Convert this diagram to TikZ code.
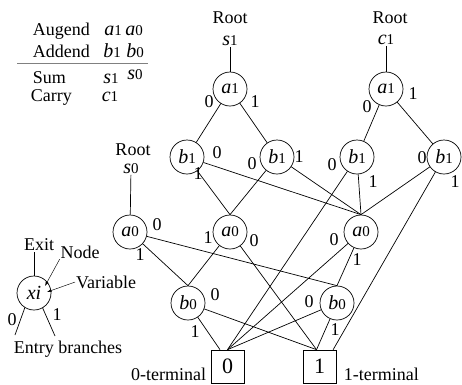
\documentclass[tikz,border=0pt]{standalone}
\usepackage{fontspec}
\setmainfont{Liberation Serif}
\usetikzlibrary{positioning,arrows.meta}

% variable with its bit index
\newcommand{\vr}[2]{{\fontsize{20}{20}\selectfont\itshape #1}{\fontsize{15}{15}\selectfont #2}}

\tikzset{
  bdd/.style={circle, draw, minimum size=34pt, inner sep=0pt},
  term/.style={draw, minimum size=33pt, inner sep=0pt, font=\fontsize{22}{22}\selectfont},
  txt/.style={inner sep=0.5pt},
  bit/.style={inner sep=0pt},
  ptr/.style={-{Latex[length=4.5pt,width=3pt]}, line width=0.45pt}
}

\begin{document}
\begin{tikzpicture}[x=1pt, y=-1pt, line width=0.7pt, font=\fontsize{18}{20}\selectfont]
    \useasboundingbox (0,0) rectangle (462,384);

    % Adder table
    \node[txt, anchor=base west] (augend) at (32,35) {Augend};
    \node[txt, anchor=base] (ta1) at (113,35) {\vr{a}{1}};
    \node[txt, anchor=base] (ta0) at (134,35) {\vr{a}{0}};
    \node[txt, anchor=base west] (addend) at (32,57) {Addend};
    \node[txt, anchor=base] (tb1) at (112,57) {\vr{b}{1}};
    \node[txt, anchor=base] (tb0) at (135,57) {\vr{b}{0}};
    \coordinate (rulel) at (17,63);
    \coordinate (ruler) at (148,63);
    \draw[gray, line width=0.6pt] (rulel) -- (ruler);
    \node[txt, anchor=base west] (sum) at (32,83) {Sum};
    \node[txt, anchor=base] (ts1) at (111,83) {\vr{s}{1}};
    \node[txt, anchor=base] (ts0) at (135,79) {\vr{s}{0}};
    \node[txt, anchor=base west] (carry) at (30,101) {Carry};
    \node[txt, anchor=base] (tc1) at (110,101) {\vr{c}{1}};

    % Roots
    \node[txt] (roots1) at (230,18) {Root};
    \node[txt] (s1) at (230,41) {\vr{s}{1}};
    \node[txt] (rootc1) at (390,18) {Root};
    \node[txt] (c1) at (386,40) {\vr{c}{1}};
    \node[txt] (roots0) at (133,150) {Root};
    \node[txt] (s0) at (131,169) {\vr{s}{0}};

    % Decision nodes
    \node[bdd] (a1l) at (230,89) {\vr{a}{1}};
    \node[bdd] (a1r) at (386,89) {\vr{a}{1}};
    \node[bdd] (b1a) at (187,157) {\vr{b}{1}};
    \node[bdd] (b1b) at (277,157) {\vr{b}{1}};
    \node[bdd] (b1c) at (357,157) {\vr{b}{1}};
    \node[bdd] (b1d) at (444,157) {\vr{b}{1}};
    \node[bdd] (a0a) at (130,232) {\vr{a}{0}};
    \node[bdd] (a0b) at (230,232) {\vr{a}{0}};
    \node[bdd] (a0c) at (361,232) {\vr{a}{0}};
    \node[bdd] (b0a) at (188,303) {\vr{b}{0}};
    \node[bdd] (b0b) at (337,303) {\vr{b}{0}};

    % Terminals
    \node[term] (t0) at (227.5,366.5) {0};
    \node[term] (t1) at (319.5,366.5) {1};
    \node[txt, anchor=base east] (t0txt) at (207,380) {0-terminal};
    \node[txt, anchor=base west] (t1txt) at (343,380) {1-terminal};

    % Connectors
    \draw (s1) -- (a1l);
    \draw (c1) -- (a1r);
    \draw (s0) -- (a0a);
    \draw (a1l) -- (b1a);
    \draw (a1l) -- (b1b);
    \draw (a1r) -- (b1c);
    \draw (a1r) -- (b1d);
    \draw (b1a) -- (a0c.north);
    \draw (b1a) -- (a0b.north);
    \draw (b1b) -- (a0b.north);
    \draw (b1b) -- (a0c.north);
    \draw (b1c) -- (t0.north);
    \draw (b1c) -- (a0c.north);
    \draw (b1d) -- (a0c.north);
    \draw (b1d) -- (t1.51);
    \draw (a0a) -- (b0b.north);
    \draw (a0a) -- (b0a.north);
    \draw (a0b) -- (b0a.north);
    \draw (a0b) -- (t1.100);
    \draw (a0c) -- (t0.north);
    \draw (a0c) -- (b0b.north);
    \draw (b0a) -- (t1.100);
    \draw (b0a) -- (t0.114);
    \draw (b0b) -- (t0.north);
    \draw (b0b) -- (t1.100);

    % Branch values
    \node[bit] (a1l0) at (209,102) {0};
    \node[bit] (a1l1) at (255,102) {1};
    \node[bit] (a1r0) at (367,107) {0};
    \node[bit] (a1r1) at (413,94) {1};
    \node[bit] (b1a0) at (217,153) {0};
    \node[bit] (b1a1) at (198,174) {1};
    \node[bit] (b1b0) at (252,164) {0};
    \node[bit] (b1b1) at (299,157) {1};
    \node[bit] (b1c0) at (332,165) {0};
    \node[bit] (b1c1) at (373,182) {1};
    \node[bit] (b1d0) at (422,158) {0};
    \node[bit] (b1d1) at (455,182) {1};
    \node[bit] (a0a0) at (157,225) {0};
    \node[bit] (a0a1) at (140,255) {1};
    \node[bit] (a0b1) at (208,238) {1};
    \node[bit] (a0b0) at (254,241) {0};
    \node[bit] (a0c0) at (334,240) {0};
    \node[bit] (a0c1) at (357,260) {1};
    \node[bit] (b0a0) at (215,295) {0};
    \node[bit] (b0a1) at (195,332) {1};
    \node[bit] (b0b0) at (309,302) {0};
    \node[bit] (b0b1) at (335,330) {1};

    % Legend
    \node[bdd] (xi) at (34,293) {\fontsize{20}{20}\selectfont\itshape xi};
    \node[txt] (exit) at (39,245) {Exit};
    \coordinate (exitend) at (34,252);
    \draw (xi) -- (exitend);
    \node[txt] (nodetxt) at (80,252) {Node};
    \coordinate (nodetip) at (45,286);
    \draw[ptr] (nodetxt.south west) -- (nodetip);
    \node[txt] (vartxt) at (106,282) {Variable};
    \coordinate (vartip) at (47,292);
    \draw[ptr] (vartxt.west) -- (vartip);
    \coordinate (entry0) at (15,335);
    \coordinate (entry1) at (55,336);
    \draw (xi.238) -- (entry0);
    \draw (xi.300) -- (entry1);
    \node[bit] (x0) at (12,320) {0};
    \node[bit] (x1) at (57,315) {1};
    \node[txt] (entry) at (68,349) {Entry branches};
\end{tikzpicture}
\end{document}
